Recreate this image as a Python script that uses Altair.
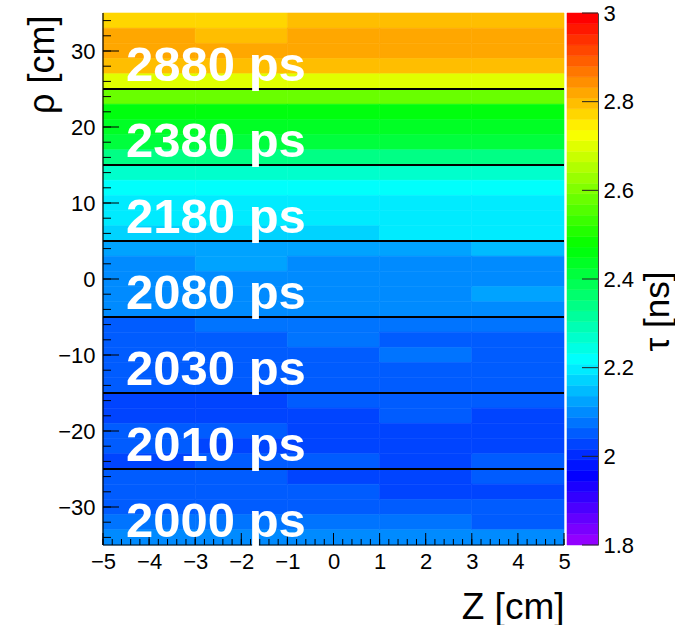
import altair as alt
import pandas as pd
import colorsys

# ---------------- data ----------------
x_edges = [-5, -3, -1, 1, 3, 5]
y_edges = list(range(35, -37, -2))          # 35 ... -35 (row edges, top to bottom)

# tau [ns] per cell, rows from top (rho 33..35) to bottom (rho -35..-33), columns Z = -5..5
tau_rows = [
    [2.772, 2.772, 2.796, 2.796, 2.796],
    [2.820, 2.796, 2.820, 2.820, 2.820],
    [2.820, 2.820, 2.820, 2.820, 2.820],
    [2.796, 2.796, 2.796, 2.796, 2.796],
    [2.700, 2.700, 2.700, 2.700, 2.700],
    [2.580, 2.580, 2.580, 2.580, 2.580],
    [2.460, 2.460, 2.460, 2.460, 2.460],
    [2.436, 2.436, 2.436, 2.436, 2.436],
    [2.412, 2.412, 2.412, 2.412, 2.412],
    [2.340, 2.340, 2.340, 2.340, 2.340],
    [2.268, 2.268, 2.268, 2.268, 2.268],
    [2.220, 2.220, 2.220, 2.220, 2.220],
    [2.196, 2.196, 2.196, 2.196, 2.196],
    [2.196, 2.196, 2.196, 2.196, 2.196],
    [2.172, 2.172, 2.172, 2.196, 2.196],
    [2.124, 2.124, 2.124, 2.124, 2.148],
    [2.100, 2.124, 2.100, 2.100, 2.100],
    [2.100, 2.100, 2.100, 2.100, 2.100],
    [2.100, 2.100, 2.100, 2.100, 2.124],
    [2.100, 2.100, 2.100, 2.100, 2.100],
    [2.052, 2.076, 2.076, 2.076, 2.076],
    [2.052, 2.052, 2.076, 2.052, 2.052],
    [2.052, 2.052, 2.052, 2.076, 2.052],
    [2.052, 2.052, 2.052, 2.052, 2.052],
    [2.052, 2.052, 2.052, 2.052, 2.052],
    [2.028, 2.028, 2.052, 2.052, 2.052],
    [2.028, 2.028, 2.028, 2.052, 2.028],
    [2.052, 2.052, 2.028, 2.028, 2.028],
    [2.052, 2.028, 2.028, 2.028, 2.028],
    [2.028, 2.052, 2.052, 2.028, 2.052],
    [2.052, 2.052, 2.028, 2.028, 2.052],
    [2.052, 2.052, 2.052, 2.028, 2.028],
    [2.052, 2.052, 2.052, 2.052, 2.052],
    [2.076, 2.076, 2.076, 2.076, 2.052],
    [2.100, 2.100, 2.100, 2.100, 2.100],
]

boundaries = [25, 15, 5, -5, -15, -25]
labels = ["2880 ps", "2380 ps", "2180 ps", "2080 ps", "2030 ps", "2010 ps", "2000 ps"]
label_x = [-4.5] * 7
label_y = [26, 16, 6, -4, -14, -24, -34]

x_major = [-5, -4, -3, -2, -1, 0, 1, 2, 3, 4, 5]
x_minor = [round(-5 + 0.2 * k, 1) for k in range(51)]
y_major = [-30, -20, -10, 0, 10, 20, 30]
y_minor = list(range(-34, 35, 2))
z_ticks = [1.8, 2, 2.2, 2.4, 2.6, 2.8, 3]
z_domain = [1.8, 3.0]

# ---------------- tables ----------------
cells = []
for r, row in enumerate(tau_rows):
    for c, t in enumerate(row):
        cells.append({"x0": x_edges[c], "x1": x_edges[c + 1],
                      "y0": y_edges[r + 1], "y1": y_edges[r], "tau": t})
df = pd.DataFrame(cells)

# ROOT "pretty" palette: 50 colours, hue 280 -> 0
NCOL = 50
palette = []
for i in range(NCOL):
    h = 280 - (i + 1) * 280 / NCOL
    r, g, b = colorsys.hls_to_rgb(h / 360.0, 0.5, 1.0)
    palette.append("#%02x%02x%02x" % (int(round(r * 255)), int(round(g * 255)), int(round(b * 255))))

step = (z_domain[1] - z_domain[0]) / NCOL
cb_df = pd.DataFrame({
    "lo": [z_domain[0] + k * step for k in range(NCOL)],
    "hi": [z_domain[0] + (k + 1) * step for k in range(NCOL)],
    "mid": [z_domain[0] + (k + 0.5) * step for k in range(NCOL)],
})

W, H = 461, 532
CBW = 31
FONT = "Liberation Sans"

xs = alt.Scale(domain=[-5, 5], nice=False, zero=False)
ys = alt.Scale(domain=[-35, 35], nice=False, zero=False)
cscale = alt.Scale(type="quantize", domain=z_domain, range=palette, nice=False)

x_axis = alt.Axis(
    values=x_major, title="Z [cm]", ticks=False, domain=False, grid=False,
    labelFontSize=22, labelPadding=6, labelFlush=False, labelOverlap=False,
    titleFontSize=37, titleX=W, titleY=73, titleAlign="right",
    titleBaseline="alphabetic")
y_axis = alt.Axis(
    values=y_major, title="ρ [cm]", ticks=False, domain=False, grid=False,
    labelFontSize=22, labelPadding=8, labelFlush=False, labelOverlap=False,
    titleFontSize=36, titleX=-61, titleY=2, titleAngle=270,
    titleAlign="right", titleBaseline="middle")

heat = alt.Chart(df).mark_rect(strokeWidth=0.6).encode(
    x=alt.X("x0:Q", scale=xs, axis=x_axis),
    x2="x1:Q",
    y=alt.Y("y0:Q", scale=ys, axis=y_axis),
    y2="y1:Q",
    color=alt.Color("tau:Q", scale=cscale, legend=None),
    stroke=alt.Stroke("tau:Q", scale=cscale, legend=None),
)

bnd = alt.Chart(pd.DataFrame({"y": boundaries})).mark_rule(color="black", strokeWidth=2).encode(
    y=alt.Y("y:Q", scale=ys, axis=y_axis),
    x=alt.X(datum=-5, scale=xs, axis=x_axis), x2=alt.datum(5),
)

ytM = alt.Chart(pd.DataFrame({"v": y_major})).mark_rule(color="black", strokeWidth=1).encode(
    y=alt.Y("v:Q", scale=ys, axis=y_axis), x=alt.value(0), x2=alt.value(16))
ytm = alt.Chart(pd.DataFrame({"v": y_minor})).mark_rule(color="black", strokeWidth=1).encode(
    y=alt.Y("v:Q", scale=ys, axis=y_axis), x=alt.value(0), x2=alt.value(8))
xtM = alt.Chart(pd.DataFrame({"v": x_major})).mark_rule(color="black", strokeWidth=1).encode(
    x=alt.X("v:Q", scale=xs, axis=x_axis), y=alt.value(H), y2=alt.value(H - 12))
xtm = alt.Chart(pd.DataFrame({"v": x_minor})).mark_rule(color="black", strokeWidth=1).encode(
    x=alt.X("v:Q", scale=xs, axis=x_axis), y=alt.value(H), y2=alt.value(H - 6))

one = pd.DataFrame({"a": [0]})
frameL = alt.Chart(one).mark_rule(color="black", strokeWidth=1.2).encode(
    x=alt.X(datum=-5, scale=xs, axis=x_axis),
    y=alt.Y(datum=-35, scale=ys, axis=y_axis), y2=alt.datum(35))
frameB = alt.Chart(one).mark_rule(color="black", strokeWidth=1.2).encode(
    y=alt.Y(datum=-35, scale=ys, axis=y_axis),
    x=alt.X(datum=-5, scale=xs, axis=x_axis), x2=alt.datum(5))

txt = alt.Chart(pd.DataFrame({"label": labels, "x": label_x, "y": label_y})).mark_text(
    align="left", baseline="alphabetic", font=FONT, fontWeight="bold",
    fontSize=49, color="white").encode(
    x=alt.X("x:Q", scale=xs, axis=x_axis), y=alt.Y("y:Q", scale=ys, axis=y_axis),
    text="label:N")

main = alt.layer(heat, bnd, ytM, ytm, xtM, xtm, frameL, frameB, txt).properties(width=W, height=H)

# ---------------- colour bar ----------------
zs = alt.Scale(domain=z_domain, nice=False, zero=False)
z_axis = alt.Axis(
    orient="right", values=z_ticks, format="~g", ticks=False, domain=True,
    domainColor="#444444", domainWidth=1, grid=False, zindex=1,
    labelFontSize=22, labelPadding=5, labelFlush=False, labelOverlap=False,
    title="τ [ns]", titleFontSize=35, titleX=59, titleY=298, titleAngle=270,
    titleAlign="center", titleBaseline="middle")
bar = alt.Chart(cb_df).mark_rect(strokeWidth=0.5).encode(
    y=alt.Y("lo:Q", scale=zs, axis=z_axis),
    y2="hi:Q",
    x=alt.value(0), x2=alt.value(CBW),
    color=alt.Color("mid:Q", scale=cscale, legend=None),
    stroke=alt.Stroke("mid:Q", scale=cscale, legend=None),
)
cbt = alt.Chart(pd.DataFrame({"v": z_ticks})).mark_rule(color="#222222", strokeWidth=1).encode(
    y=alt.Y("v:Q", scale=zs, axis=z_axis), x=alt.value(CBW - 16), x2=alt.value(CBW))

cbar = alt.layer(bar, cbt).properties(width=CBW, height=H)

chart = alt.hconcat(main, cbar, spacing=3, bounds="flush").resolve_scale(
    color="independent", stroke="independent"
).properties(
    padding={"left": 24, "top": 2, "right": 0, "bottom": 0},
    background="white",
).configure_view(stroke=None).configure_axis(
    labelFont=FONT, titleFont=FONT, titleFontWeight="normal",
    labelColor="black", titleColor="black",
)

chart.save("out.html", embed_options={"renderer": "svg", "actions": False})
